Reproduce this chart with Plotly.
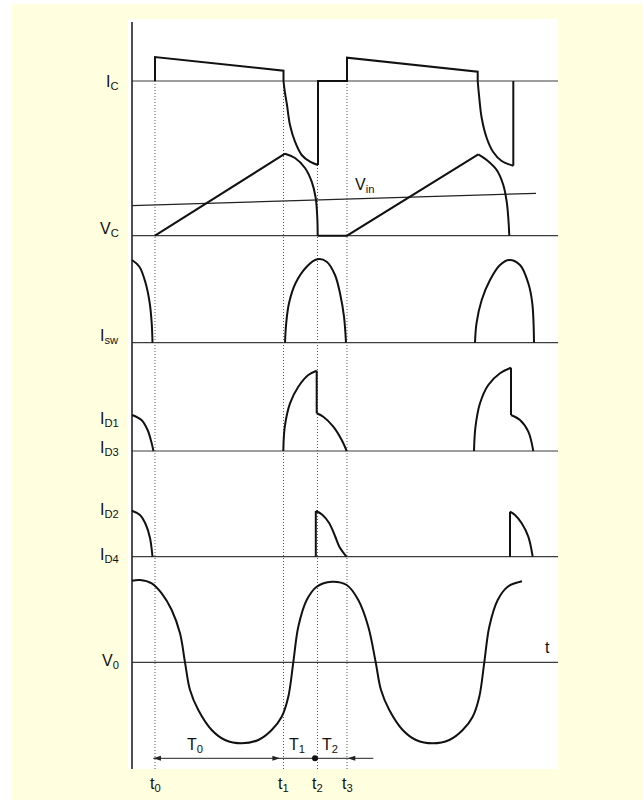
import plotly.graph_objects as go

# ---------------------------------------------------------------------------
# Time / amplitude frame (arbitrary units, 0 on the time axis = vertical axis)
# ---------------------------------------------------------------------------
T_RANGE = [-4, 426]
Y_RANGE = [0, 750]

# switching instants of the first cycle
T_NAMES = ["t<sub>0</sub>", "t<sub>1</sub>", "t<sub>2</sub>", "t<sub>3</sub>"]
T_VALUES = [23, 151.5, 185.5, 215]

# baseline (zero level) of every trace, bottom of frame = 0
BASE_IC = 688
BASE_VC = 533.3
BASE_ISW = 426.3
BASE_ID13 = 318
BASE_ID24 = 212.3
BASE_V0 = 106.7

# each waveform: list of (kind, times, amplitudes above its baseline)
IC_SEGMENTS = [
    ("line", [23, 23, 151.5, 151.5], [0, 24, 10.3, 0]),
    ("curve", [151.5, 153, 155, 158, 163, 169.7, 178, 186], [0, -12, -24, -44, -60.7, -74, -80.7, -84]),
    ("line", [186, 186, 215, 215, 345.7, 345.7], [-84, 0, 0, 23.3, 9.3, 0]),
    ("curve", [345.7, 347, 349.7, 354.7, 361, 369.7, 381.3], [0, -14, -37, -57, -70.7, -80, -84.7]),
    ("line", [381.3, 381.3], [-84.7, 0]),
]

VC_SEGMENTS = [
    ("line", [23, 153], [0, 82]),
    ("curve", [153, 163, 173, 179.7, 183.7, 185.3, 185.7], [82, 77.7, 67.7, 54, 37.7, 17.7, 0]),
    ("line", [185.7, 215, 346.3], [0, 0, 81.4]),
    ("curve", [346.3, 354.7, 364.7, 371.3, 374.7, 376.3, 377.3], [81.4, 75.7, 65.7, 50.7, 34, 17.7, 0]),
]
VIN_T = [0, 404]
VIN_A = [30, 42.4]

ISW_SEGMENTS = [
    ("curve", [0, 7.4, 13.6, 17.7, 19.7, 20.5], [82.7, 76, 59.7, 39.7, 19.7, 0]),
    ("curve", [153, 154.2, 157, 163.5, 174.7, 185.3, 194.7, 203, 208, 212, 214],
     [0, 19.4, 39.4, 59.4, 76, 83.4, 81, 67.7, 49.4, 26, 0]),
    ("curve", [343, 344.5, 349.7, 358, 368, 377.3, 388, 396.3, 400.3, 402],
     [0, 19.4, 42.7, 62.7, 77.7, 82.7, 77.7, 59.4, 39.4, 0]),
]

ID13_SEGMENTS = [
    ("curve", [0, 9.5, 15.6, 19.7, 21.4], [36, 31, 21, 7.7, 0]),
    ("curve", [151.3, 152.8, 158, 166.3, 176.3, 184.7], [0, 24.3, 47.7, 64.3, 76, 80.3]),
    ("line", [184.7, 184.7], [80.3, 37.7]),
    ("curve", [184.7, 191.3, 201.3, 209.7, 214.7], [37.7, 34.3, 24.3, 11, 0]),
    ("curve", [342, 343.5, 348, 356.3, 368, 379], [0, 24.3, 47.7, 66, 77.7, 83.3]),
    ("line", [379, 379], [83.3, 36]),
    ("curve", [379, 388, 396.3, 401.3], [36, 31, 19.3, 0]),
]

ID24_SEGMENTS = [
    ("curve", [0, 8, 14, 18, 20.5], [46, 41.7, 31.7, 18.7, 0]),
    ("line", [183.8, 183.8], [0, 45.7]),
    ("curve", [183.8, 190, 197, 203, 207.5, 214.5], [45.7, 42.2, 33.9, 20.7, 9.7, 0]),
    ("line", [378, 378], [0, 45]),
    ("curve", [378, 383, 389.7, 396.3, 400.7], [45, 41.7, 33.4, 20, 0]),
]

V0_T = [0, 8, 19.7, 29.7, 39.7, 48, 53, 58, 66.3, 79.7, 93, 109.7, 126.3, 139.7,
        149.7, 156.3, 161.3, 166.3, 174.7, 184.7, 199.7, 214.7, 226.3, 236.3, 243.7,
        249, 257.3, 270.7, 284, 300.7, 317.3, 330.7, 340.7, 347.3, 352.3, 357.3,
        365.7, 375.7, 390]
V0_A = [81.6, 82.3, 79, 69, 52.3, 29, 0, -27.7, -47.7, -67.7, -77.7, -81, -77.7, -67.7,
        -54.4, -34.4, 0, 35.6, 62.3, 75.6, 80.6, 77.3, 62.3, 35.6, 0,
        -27.7, -47.7, -67.7, -77.7, -81, -77.7, -67.7, -54.4, -34.4, 0, 35.6,
        62.3, 75.6, 81]

# interval markers along the bottom
INTERVAL_Y = 10.7
INTERVAL_START = 21.3
INTERVAL_END = 215.7
ARROW_TIPS = [21.3, 148, 215.7]
ARROW_DIRS = ["left", "right", "left"]
RETURN_ARROW_TAIL = 241.3
T2_DOT = 183
INTERVAL_NAMES = ["T<sub>0</sub>", "T<sub>1</sub>", "T<sub>2</sub>"]
INTERVAL_POS = [63, 165, 198]

# ---------------------------------------------------------------------------
INK = "#111111"
THIN = "#3c3c3c"
FONT = "Liberation Sans, Arial, sans-serif"

fig = go.Figure()


def add_line(x, y, width=2, color=INK, shape="linear", dash=None):
    fig.add_trace(go.Scatter(
        x=x, y=y, mode="lines", hoverinfo="skip", showlegend=False,
        line=dict(color=color, width=width, shape=shape, dash=dash,
                  smoothing=1.0 if shape == "spline" else None),
    ))


# zero levels of each channel
for base in [BASE_IC, BASE_VC, BASE_ISW, BASE_ID13, BASE_ID24, BASE_V0]:
    add_line([0, T_RANGE[1]], [base, base], width=1.2, color=THIN)

# dotted time markers
for t in T_VALUES:
    add_line([t, t], [BASE_IC, 0], width=1, color="#555555", dash="1px,2px")

# vertical axis
add_line([0, 0], [0, 747], width=1.6, color="#222222")

# input voltage reference
add_line(VIN_T, [BASE_VC + a for a in VIN_A], width=1.2, color="#222222")


def draw_segments(segments, base):
    for kind, ts, amps in segments:
        add_line(ts, [base + a for a in amps],
                 shape="spline" if kind == "curve" else "linear")


draw_segments(IC_SEGMENTS, BASE_IC)
draw_segments(VC_SEGMENTS, BASE_VC)
draw_segments(ISW_SEGMENTS, BASE_ISW)
draw_segments(ID13_SEGMENTS, BASE_ID13)
draw_segments(ID24_SEGMENTS, BASE_ID24)
add_line(V0_T, [BASE_V0 + a for a in V0_A], shape="spline")

# interval line, return arrow shaft and the t2 dot
add_line([INTERVAL_START, INTERVAL_END], [INTERVAL_Y, INTERVAL_Y], width=1, color="#222222")
add_line([INTERVAL_END, RETURN_ARROW_TAIL], [INTERVAL_Y, INTERVAL_Y], width=1, color="#222222")
fig.add_trace(go.Scatter(x=[T2_DOT], y=[INTERVAL_Y], mode="markers", hoverinfo="skip",
                         showlegend=False, marker=dict(color=INK, size=6)))
fig.add_trace(go.Scatter(
    x=ARROW_TIPS, y=[INTERVAL_Y] * len(ARROW_TIPS), mode="markers", hoverinfo="skip",
    showlegend=False,
    marker=dict(symbol="arrow", size=8, color="#222222",
                angle=[270 if d == "left" else 90 for d in ARROW_DIRS],
                line=dict(width=0)),
))

label_font = dict(family=FONT, size=16, color=INK)

# channel names left of the axis
channel_labels = [
    ("I<sub>C</sub>", BASE_IC - 1),
    ("V<sub>C</sub>", BASE_VC + 6),
    ("I<sub>sw</sub>", BASE_ISW + 6),
    ("I<sub>D1</sub>", BASE_ID13 + 32),
    ("I<sub>D3</sub>", BASE_ID13 + 3),
    ("I<sub>D2</sub>", BASE_ID24 + 46),
    ("I<sub>D4</sub>", BASE_ID24 + 1),
    ("V<sub>0</sub>", BASE_V0 + 1),
]
for text, y in channel_labels:
    fig.add_annotation(x=0, xref="paper", y=y, yref="y", text=text, showarrow=False,
                       xanchor="right", yanchor="middle", xshift=-7, font=label_font)

fig.add_annotation(x=221, y=BASE_VC + 50, text="V<sub>in</sub>", showarrow=False,
                   xanchor="left", yanchor="middle", font=label_font)
fig.add_annotation(x=415, y=BASE_V0 + 15, text="t", showarrow=False,
                   xanchor="center", yanchor="middle", font=label_font)

for text, x in zip(INTERVAL_NAMES, INTERVAL_POS):
    fig.add_annotation(x=x, y=24, text=text, showarrow=False,
                       xanchor="center", yanchor="middle", font=label_font)

for text, x in zip(T_NAMES, T_VALUES):
    fig.add_annotation(x=x, xref="x", y=0, yref="paper", text=text, showarrow=False,
                       xanchor="center", yanchor="middle", yshift=-15, font=label_font)

# page frame: white strip on the left and top edges of the yellow page
L, R, TOP, BOT = 128, 85, 19, 31
PW, PH = 643 - L - R, 800 - TOP - BOT
fig.add_shape(type="rect", xref="paper", yref="paper", layer="below",
              x0=-L / PW, x1=(12 - L) / PW, y0=-BOT / PH, y1=(800 - BOT) / PH,
              line_width=0, fillcolor="white")
fig.add_shape(type="rect", xref="paper", yref="paper", layer="below",
              x0=-L / PW, x1=(643 - L) / PW, y0=(796 - BOT) / PH, y1=(800 - BOT) / PH,
              line_width=0, fillcolor="white")

fig.update_layout(
    width=643, height=800,
    margin=dict(l=L, r=R, t=TOP, b=BOT, pad=0),
    paper_bgcolor="#FFFFE0",
    plot_bgcolor="white",
    hovermode=False,
    xaxis=dict(range=T_RANGE, visible=False, fixedrange=True),
    yaxis=dict(range=Y_RANGE, visible=False, fixedrange=True),
)

fig.write_html("out.html", config={"displayModeBar": False})
